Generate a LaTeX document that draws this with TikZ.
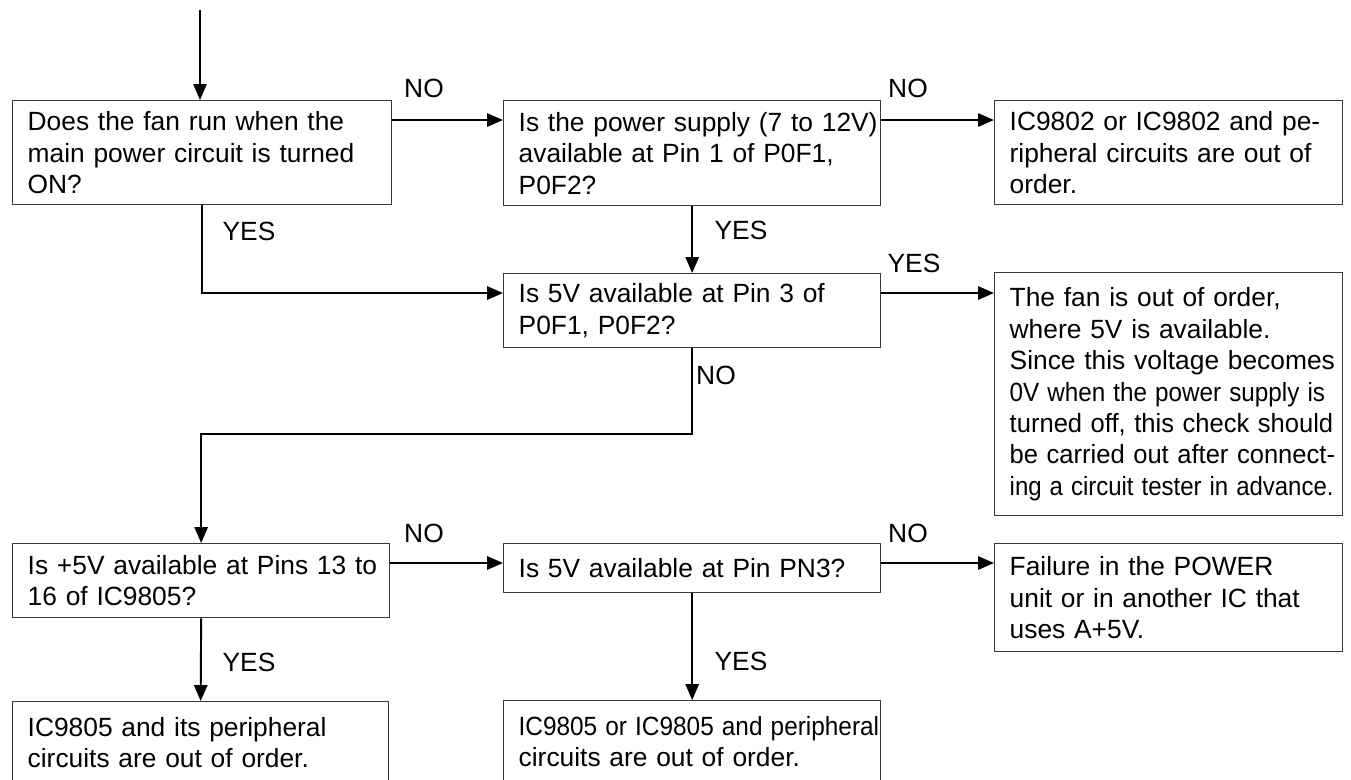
\documentclass[tikz,border=0pt]{standalone}
\usepackage{fontspec}
\setmainfont{Liberation Sans}
\usepackage{graphicx}
\usetikzlibrary{arrows.meta,calc}
\definecolor{fcline}{HTML}{3A3A3A}
\newcommand{\squeeze}[2]{\scalebox{#1}[1]{#2}}

\begin{document}
\begin{tikzpicture}[
  x=0.02cm, y=-0.02cm,
  font={\fontsize{15pt}{17.9pt}\selectfont},
  >={Triangle[length=9pt,width=7.5pt]},
  chkbox/.style={draw=fcline, line width=0.8pt, anchor=north west,
    inner xsep=0pt, inner ysep=0pt, align=left,
    execute at begin node={\leftskip=0.3cm}},
  flow/.style={->, line width=1.1pt},
  ans/.style={inner sep=0pt},
]
\useasboundingbox (0,0) rectangle (1351,779);

% ---------- row 1 ----------
\node[chkbox, text width=7.58cm, minimum height=2.08cm] (fan) at (12,100)
  {Does the fan run when the\\ main power circuit is turned\\ ON?};
\node[chkbox, text width=7.54cm, minimum height=2.10cm] (power) at (503,100)
  {Is the power supply (7 to 12V)\\ available at Pin 1 of P0F1,\\ P0F2?};
\node[chkbox, text width=6.96cm, minimum height=2.08cm] (ic9802) at (994,100)
  {IC9802 or IC9802 and pe-\\ ripheral circuits are out of\\ order.};

% ---------- row 2 ----------
\node[chkbox, text width=7.54cm, minimum height=1.48cm] (vcheck) at (503,273)
  {Is 5V available at Pin 3 of\\ P0F1, P0F2?};
\node[chkbox, text width=6.96cm, minimum height=4.86cm] (fanbad) at (994,272)
  {The fan is out of order,\\ where 5V is available.\\ Since this voltage becomes\\
   \squeeze{0.92}{0V when the power supply is}\\
   \squeeze{0.97}{turned off, this check should}\\
   \squeeze{0.97}{be carried out after connect-}\\
   \squeeze{0.91}{ing a circuit tester in advance.}};

% ---------- row 3 ----------
\node[chkbox, text width=7.54cm, minimum height=1.48cm] (pins) at (12,543)
  {Is +5V available at Pins 13 to\\ 16 of IC9805?};
\node[chkbox, text width=7.54cm, minimum height=0.98cm] (pn3) at (503,543)
  {Is 5V available at Pin PN3?};
\node[chkbox, text width=6.96cm, minimum height=2.16cm] (fail) at (994,543)
  {Failure in the POWER\\ unit or in another IC that\\ uses A+5V.};

% ---------- row 4 (runs off the page) ----------
\node[chkbox, text width=7.52cm, minimum height=1.64cm] (bad9805) at (12,701)
  {IC9805 and its peripheral\\ circuits are out of order.};
\node[chkbox, text width=7.54cm, minimum height=1.64cm] (bad9805b) at (503,700)
  {\squeeze{0.925}{IC9805 or IC9805 and peripheral}\\ circuits are out of order.};

% ---------- connectors ----------
\coordinate (start) at (200,10);
\draw[flow] (start) -- (start |- fan.north);
\draw[flow] ($(fan.north east)+(0,20)$) -- ($(power.north west)+(0,20)$);
\draw[flow] ($(power.north east)+(0,20)$) -- ($(ic9802.north west)+(0,20)$);
\draw[flow] (power.south) -- (vcheck.north);
\draw[flow] (fan.south) |- ($(vcheck.north west)+(0,20)$);
\draw[flow] ($(vcheck.north east)+(0,20)$) -- ($(fanbad.north west)+(0,21)$);
\draw[flow] (vcheck.south) -- ++(0,86) -| (pins.north);
\draw[flow] ($(pins.north east)+(0,20)$) -- ($(pn3.north west)+(0,20)$);
\draw[flow] ($(pn3.north east)+(0,20)$) -- ($(fail.north west)+(0,20)$);
\draw[flow] (pins.south) -- (bad9805.north);
\draw[flow] (pn3.south) -- (bad9805b.north);

% ---------- answers ----------
\node[ans] (no1) at (424,88) {NO};
\node[ans] (no2) at (908,88) {NO};
\node[ans] (yes1) at (249,231) {YES};
\node[ans] (yes2) at (741,230) {YES};
\node[ans] (yes3) at (914,263) {YES};
\node[ans] (no3) at (716,375) {NO};
\node[ans] (no4) at (424,533) {NO};
\node[ans] (no5) at (908,533) {NO};
\node[ans] (yes4) at (249,662) {YES};
\node[ans] (yes5) at (741,661) {YES};
\end{tikzpicture}
\end{document}
